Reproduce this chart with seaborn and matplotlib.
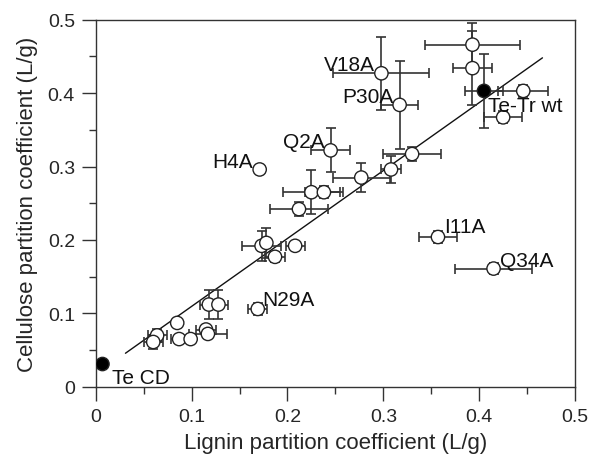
import numpy as np
import pandas as pd
import matplotlib
matplotlib.use("Agg")
import matplotlib.pyplot as plt
import seaborn as sns

# lignin / cellulose partition coefficients (L/g)
lignin = [0.393, 0.393, 0.405, 0.446, 0.425, 0.298, 0.317, 0.245, 0.171, 0.330,
          0.308, 0.277, 0.225, 0.238, 0.212, 0.173, 0.178, 0.208, 0.187, 0.357,
          0.415, 0.169, 0.118, 0.128, 0.085, 0.115, 0.117, 0.087, 0.099, 0.064,
          0.060, 0.007]
cellulose = [0.466, 0.434, 0.403, 0.403, 0.367, 0.427, 0.384, 0.322, 0.296, 0.317,
             0.296, 0.285, 0.265, 0.265, 0.242, 0.192, 0.196, 0.192, 0.177, 0.204,
             0.161, 0.106, 0.112, 0.112, 0.087, 0.078, 0.072, 0.065, 0.065, 0.070,
             0.061, 0.031]
lignin_err = [0.050, 0.020, 0.020, 0.026, 0.020, 0.050, 0.019, 0.020, 0.0, 0.030,
              0.010, 0.030, 0.030, 0.020, 0.030, 0.020, 0.0, 0.010, 0.010, 0.020,
              0.040, 0.010, 0.009, 0.010, 0.0, 0.010, 0.020, 0.009, 0.0, 0.010,
              0.010, 0.0]
cellulose_err = [0.030, 0.050, 0.050, 0.008, 0.008, 0.050, 0.060, 0.030, 0.005, 0.009,
                 0.019, 0.020, 0.030, 0.008, 0.010, 0.020, 0.020, 0.0, 0.007, 0.008,
                 0.008, 0.008, 0.020, 0.020, 0.0, 0.006, 0.006, 0.006, 0.0, 0.009,
                 0.010, 0.005]
variant = ["mut"] * 32
variant[2] = "wt"
variant[31] = "wt"

# labelled points: text, x, y, alignment
label_text = ["V18A", "P30A", "Te-Tr wt", "Q2A", "H4A", "I11A", "Q34A", "N29A", "Te CD"]
label_x = [0.2914, 0.3104, 0.4095, 0.2392, 0.1644, 0.3637, 0.4218, 0.1742, 0.0167]
label_y = [0.4421, 0.3977, 0.386, 0.3374, 0.3102, 0.2206, 0.1752, 0.1216, 0.015]
label_ha = ["right", "right", "left", "right", "right", "left", "left", "left", "left"]

# linear fit drawn across the data
fit_x = [0.031, 0.466]
fit_slope = 0.925
fit_icept = 0.017

df = pd.DataFrame({"lignin": lignin, "cellulose": cellulose,
                   "xerr": lignin_err, "yerr": cellulose_err, "variant": variant})
fit = pd.DataFrame({"x": fit_x})
fit["y"] = fit_slope * fit["x"] + fit_icept

sns.set_theme(style="ticks")
plt.rcParams["font.family"] = ["Liberation Sans", "DejaVu Sans"]

fig = plt.figure(figsize=(5.91, 4.60), dpi=100)
ax = fig.add_axes([0.162, 0.157, 0.811, 0.798])

sns.lineplot(data=fit, x="x", y="y", color="#111111", linewidth=1.0, ax=ax, zorder=1)
ax.errorbar(df["lignin"], df["cellulose"], xerr=df["xerr"], yerr=df["yerr"],
            fmt="none", ecolor="#333333", elinewidth=1.2, capsize=3.5,
            capthick=1.2, zorder=2)
sns.scatterplot(data=df, x="lignin", y="cellulose", hue="variant",
                palette={"mut": "white", "wt": "black"}, edgecolor="#222222",
                linewidth=1.0, s=92, legend=False, ax=ax, zorder=3)

for t, x, y, ha in zip(label_text, label_x, label_y, label_ha):
    ax.text(x, y, t, ha=ha, va="center_baseline", fontsize=15, color="#111111")

ax.set_xlim(0, 0.5)
ax.set_ylim(0, 0.5)
ax.set_xticks(np.arange(0, 0.51, 0.1))
ax.set_yticks(np.arange(0, 0.51, 0.1))
ax.set_xticks(np.arange(0.05, 0.5, 0.1), minor=True)
ax.set_yticks(np.arange(0.05, 0.5, 0.1), minor=True)
ax.set_xticklabels(["0", "0.1", "0.2", "0.3", "0.4", "0.5"])
ax.set_yticklabels(["0", "0.1", "0.2", "0.3", "0.4", "0.5"])
ax.tick_params(which="major", direction="out", length=10, width=1, labelsize=14,
               color="#333333", pad=5)
ax.tick_params(which="minor", direction="out", length=5, width=1, color="#333333")
for s in ax.spines.values():
    s.set_visible(True)
    s.set_color("#333333")
    s.set_linewidth(1.0)

ax.set_xlabel("Lignin partition coefficient (L/g)", fontsize=16, labelpad=5)
ax.set_ylabel("Cellulose partition coefficient (L/g)", fontsize=16, labelpad=7)

fig.savefig("out.png", dpi=100)
